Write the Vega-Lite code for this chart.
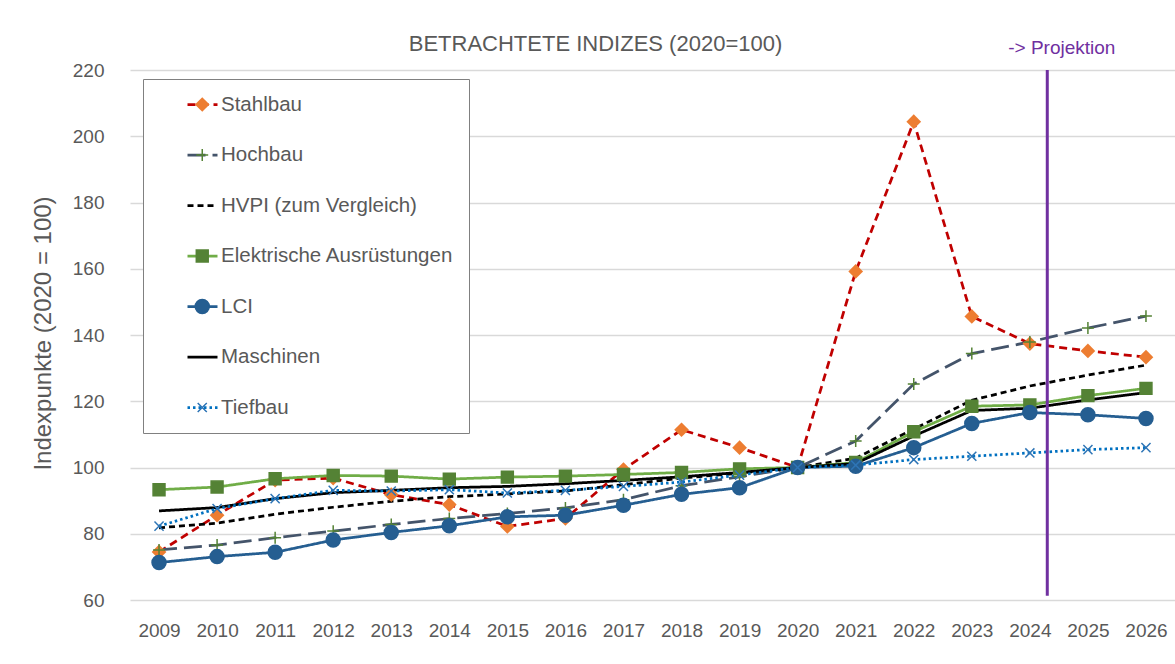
{
  "$schema": "https://vega.github.io/schema/vega-lite/v6.json",
  "autosize": {"type": "none"},
  "width": 1045,
  "height": 530,
  "padding": {"left": 130, "top": 70, "right": 0, "bottom": 64},
  "background": "white",
  "config": {"view": {"stroke": null}, "font": "Liberation Sans"},
  "title": {"text": "BETRACHTETE INDIZES (2020=100)", "fontSize": 22, "fontWeight": "normal", "color": "#595959", "font": "Liberation Sans", "anchor": "middle", "dx": -57, "dy": 22, "offset": 5},
  "datasets": {
    "idx": [
      {"year": 2009, "series": "Stahlbau", "order": 1, "value": 74.5},
      {"year": 2010, "series": "Stahlbau", "order": 1, "value": 85.6},
      {"year": 2011, "series": "Stahlbau", "order": 1, "value": 96.2},
      {"year": 2012, "series": "Stahlbau", "order": 1, "value": 96.8},
      {"year": 2013, "series": "Stahlbau", "order": 1, "value": 91.8},
      {"year": 2014, "series": "Stahlbau", "order": 1, "value": 88.8},
      {"year": 2015, "series": "Stahlbau", "order": 1, "value": 82.2},
      {"year": 2016, "series": "Stahlbau", "order": 1, "value": 84.6},
      {"year": 2017, "series": "Stahlbau", "order": 1, "value": 99.4},
      {"year": 2018, "series": "Stahlbau", "order": 1, "value": 111.4},
      {"year": 2019, "series": "Stahlbau", "order": 1, "value": 106.0},
      {"year": 2020, "series": "Stahlbau", "order": 1, "value": 100.0},
      {"year": 2021, "series": "Stahlbau", "order": 1, "value": 159.2},
      {"year": 2022, "series": "Stahlbau", "order": 1, "value": 204.4},
      {"year": 2023, "series": "Stahlbau", "order": 1, "value": 145.6},
      {"year": 2024, "series": "Stahlbau", "order": 1, "value": 137.4},
      {"year": 2025, "series": "Stahlbau", "order": 1, "value": 135.2},
      {"year": 2026, "series": "Stahlbau", "order": 1, "value": 133.3},
      {"year": 2009, "series": "Hochbau", "order": 2, "value": 75.1},
      {"year": 2010, "series": "Hochbau", "order": 2, "value": 76.6},
      {"year": 2011, "series": "Hochbau", "order": 2, "value": 78.8},
      {"year": 2012, "series": "Hochbau", "order": 2, "value": 80.8},
      {"year": 2013, "series": "Hochbau", "order": 2, "value": 82.8},
      {"year": 2014, "series": "Hochbau", "order": 2, "value": 84.6},
      {"year": 2015, "series": "Hochbau", "order": 2, "value": 86.1},
      {"year": 2016, "series": "Hochbau", "order": 2, "value": 87.8},
      {"year": 2017, "series": "Hochbau", "order": 2, "value": 90.3},
      {"year": 2018, "series": "Hochbau", "order": 2, "value": 94.5},
      {"year": 2019, "series": "Hochbau", "order": 2, "value": 97.2},
      {"year": 2020, "series": "Hochbau", "order": 2, "value": 100.0},
      {"year": 2021, "series": "Hochbau", "order": 2, "value": 108.0},
      {"year": 2022, "series": "Hochbau", "order": 2, "value": 125.2},
      {"year": 2023, "series": "Hochbau", "order": 2, "value": 134.4},
      {"year": 2024, "series": "Hochbau", "order": 2, "value": 137.9},
      {"year": 2025, "series": "Hochbau", "order": 2, "value": 142.1},
      {"year": 2026, "series": "Hochbau", "order": 2, "value": 145.7},
      {"year": 2009, "series": "HVPI (zum Vergleich)", "order": 3, "value": 81.8},
      {"year": 2010, "series": "HVPI (zum Vergleich)", "order": 3, "value": 83.2},
      {"year": 2011, "series": "HVPI (zum Vergleich)", "order": 3, "value": 85.9},
      {"year": 2012, "series": "HVPI (zum Vergleich)", "order": 3, "value": 88.0},
      {"year": 2013, "series": "HVPI (zum Vergleich)", "order": 3, "value": 89.8},
      {"year": 2014, "series": "HVPI (zum Vergleich)", "order": 3, "value": 91.2},
      {"year": 2015, "series": "HVPI (zum Vergleich)", "order": 3, "value": 92.0},
      {"year": 2016, "series": "HVPI (zum Vergleich)", "order": 3, "value": 92.9},
      {"year": 2017, "series": "HVPI (zum Vergleich)", "order": 3, "value": 94.8},
      {"year": 2018, "series": "HVPI (zum Vergleich)", "order": 3, "value": 96.8},
      {"year": 2019, "series": "HVPI (zum Vergleich)", "order": 3, "value": 98.3},
      {"year": 2020, "series": "HVPI (zum Vergleich)", "order": 3, "value": 100.0},
      {"year": 2021, "series": "HVPI (zum Vergleich)", "order": 3, "value": 102.8},
      {"year": 2022, "series": "HVPI (zum Vergleich)", "order": 3, "value": 111.6},
      {"year": 2023, "series": "HVPI (zum Vergleich)", "order": 3, "value": 120.3},
      {"year": 2024, "series": "HVPI (zum Vergleich)", "order": 3, "value": 124.6},
      {"year": 2025, "series": "HVPI (zum Vergleich)", "order": 3, "value": 127.9},
      {"year": 2026, "series": "HVPI (zum Vergleich)", "order": 3, "value": 130.9},
      {"year": 2009, "series": "Elektrische Ausrüstungen", "order": 4, "value": 93.3},
      {"year": 2010, "series": "Elektrische Ausrüstungen", "order": 4, "value": 94.1},
      {"year": 2011, "series": "Elektrische Ausrüstungen", "order": 4, "value": 96.6},
      {"year": 2012, "series": "Elektrische Ausrüstungen", "order": 4, "value": 97.6},
      {"year": 2013, "series": "Elektrische Ausrüstungen", "order": 4, "value": 97.4},
      {"year": 2014, "series": "Elektrische Ausrüstungen", "order": 4, "value": 96.5},
      {"year": 2015, "series": "Elektrische Ausrüstungen", "order": 4, "value": 97.1},
      {"year": 2016, "series": "Elektrische Ausrüstungen", "order": 4, "value": 97.4},
      {"year": 2017, "series": "Elektrische Ausrüstungen", "order": 4, "value": 97.9},
      {"year": 2018, "series": "Elektrische Ausrüstungen", "order": 4, "value": 98.5},
      {"year": 2019, "series": "Elektrische Ausrüstungen", "order": 4, "value": 99.6},
      {"year": 2020, "series": "Elektrische Ausrüstungen", "order": 4, "value": 100.0},
      {"year": 2021, "series": "Elektrische Ausrüstungen", "order": 4, "value": 101.5},
      {"year": 2022, "series": "Elektrische Ausrüstungen", "order": 4, "value": 110.8},
      {"year": 2023, "series": "Elektrische Ausrüstungen", "order": 4, "value": 118.5},
      {"year": 2024, "series": "Elektrische Ausrüstungen", "order": 4, "value": 118.9},
      {"year": 2025, "series": "Elektrische Ausrüstungen", "order": 4, "value": 121.7},
      {"year": 2026, "series": "Elektrische Ausrüstungen", "order": 4, "value": 123.9},
      {"year": 2009, "series": "LCI", "order": 5, "value": 71.3},
      {"year": 2010, "series": "LCI", "order": 5, "value": 73.1},
      {"year": 2011, "series": "LCI", "order": 5, "value": 74.4},
      {"year": 2012, "series": "LCI", "order": 5, "value": 78.1},
      {"year": 2013, "series": "LCI", "order": 5, "value": 80.4},
      {"year": 2014, "series": "LCI", "order": 5, "value": 82.4},
      {"year": 2015, "series": "LCI", "order": 5, "value": 85.1},
      {"year": 2016, "series": "LCI", "order": 5, "value": 85.6},
      {"year": 2017, "series": "LCI", "order": 5, "value": 88.6},
      {"year": 2018, "series": "LCI", "order": 5, "value": 91.9},
      {"year": 2019, "series": "LCI", "order": 5, "value": 93.9},
      {"year": 2020, "series": "LCI", "order": 5, "value": 100.0},
      {"year": 2021, "series": "LCI", "order": 5, "value": 100.4},
      {"year": 2022, "series": "LCI", "order": 5, "value": 106.0},
      {"year": 2023, "series": "LCI", "order": 5, "value": 113.3},
      {"year": 2024, "series": "LCI", "order": 5, "value": 116.6},
      {"year": 2025, "series": "LCI", "order": 5, "value": 115.9},
      {"year": 2026, "series": "LCI", "order": 5, "value": 114.8},
      {"year": 2009, "series": "Maschinen", "order": 6, "value": 86.9},
      {"year": 2010, "series": "Maschinen", "order": 6, "value": 87.9},
      {"year": 2011, "series": "Maschinen", "order": 6, "value": 90.6},
      {"year": 2012, "series": "Maschinen", "order": 6, "value": 92.4},
      {"year": 2013, "series": "Maschinen", "order": 6, "value": 93.1},
      {"year": 2014, "series": "Maschinen", "order": 6, "value": 93.9},
      {"year": 2015, "series": "Maschinen", "order": 6, "value": 94.3},
      {"year": 2016, "series": "Maschinen", "order": 6, "value": 95.1},
      {"year": 2017, "series": "Maschinen", "order": 6, "value": 96.1},
      {"year": 2018, "series": "Maschinen", "order": 6, "value": 97.2},
      {"year": 2019, "series": "Maschinen", "order": 6, "value": 98.5},
      {"year": 2020, "series": "Maschinen", "order": 6, "value": 100.0},
      {"year": 2021, "series": "Maschinen", "order": 6, "value": 101.2},
      {"year": 2022, "series": "Maschinen", "order": 6, "value": 109.5},
      {"year": 2023, "series": "Maschinen", "order": 6, "value": 117.2},
      {"year": 2024, "series": "Maschinen", "order": 6, "value": 117.9},
      {"year": 2025, "series": "Maschinen", "order": 6, "value": 120.4},
      {"year": 2026, "series": "Maschinen", "order": 6, "value": 122.6},
      {"year": 2009, "series": "Tiefbau", "order": 7, "value": 82.3},
      {"year": 2010, "series": "Tiefbau", "order": 7, "value": 87.6},
      {"year": 2011, "series": "Tiefbau", "order": 7, "value": 90.6},
      {"year": 2012, "series": "Tiefbau", "order": 7, "value": 93.1},
      {"year": 2013, "series": "Tiefbau", "order": 7, "value": 92.9},
      {"year": 2014, "series": "Tiefbau", "order": 7, "value": 93.3},
      {"year": 2015, "series": "Tiefbau", "order": 7, "value": 92.3},
      {"year": 2016, "series": "Tiefbau", "order": 7, "value": 93.1},
      {"year": 2017, "series": "Tiefbau", "order": 7, "value": 94.3},
      {"year": 2018, "series": "Tiefbau", "order": 7, "value": 95.6},
      {"year": 2019, "series": "Tiefbau", "order": 7, "value": 97.7},
      {"year": 2020, "series": "Tiefbau", "order": 7, "value": 100.0},
      {"year": 2021, "series": "Tiefbau", "order": 7, "value": 100.7},
      {"year": 2022, "series": "Tiefbau", "order": 7, "value": 102.4},
      {"year": 2023, "series": "Tiefbau", "order": 7, "value": 103.4},
      {"year": 2024, "series": "Tiefbau", "order": 7, "value": 104.4},
      {"year": 2025, "series": "Tiefbau", "order": 7, "value": 105.4},
      {"year": 2026, "series": "Tiefbau", "order": 7, "value": 106.0}
    ],
    "notes": [
      {"note": "-> Projektion", "year": 2024.3, "yLow": 61.3, "yHigh": 220, "labelYear": 2024.55, "labelValue": 224.8}
    ]
  },
  "layer": [
    {
      "data": {"name": "idx"},
      "mark": {"type": "line", "strokeWidth": 2.75},
      "encoding": {
        "x": {
          "field": "year", "type": "quantitative",
          "scale": {"domain": [2008.5, 2026.5], "nice": false, "zero": false},
          "axis": {"values": [2009, 2010, 2011, 2012, 2013, 2014, 2015, 2016, 2017, 2018, 2019, 2020, 2021, 2022, 2023, 2024, 2025, 2026], "format": "d", "title": null, "labelFontSize": 19, "labelFont": "Liberation Sans", "labelColor": "#595959", "labelPadding": 21, "ticks": false, "tickSize": 0, "domain": false, "grid": false, "labelFlush": false}
        },
        "y": {
          "field": "value", "type": "quantitative",
          "scale": {"domain": [60, 220], "nice": false, "zero": false},
          "axis": {"values": [60, 80, 100, 120, 140, 160, 180, 200, 220], "title": "Indexpunkte (2020 = 100)", "titleFontSize": 24, "titleFont": "Liberation Sans", "titleFontWeight": "normal", "titleColor": "#595959", "titleX": -87, "titleY": 263, "titleAngle": -90, "titleAlign": "center", "titleBaseline": "middle", "labelFontSize": 19, "labelFont": "Liberation Sans", "labelColor": "#595959", "labelPadding": 26, "ticks": false, "tickSize": 0, "domain": false, "grid": true, "gridColor": "#d9d9d9", "gridWidth": 1.3}
        },
        "color": {
          "field": "series", "type": "nominal",
          "scale": {"domain": ["Stahlbau", "Hochbau", "HVPI (zum Vergleich)", "Elektrische Ausrüstungen", "LCI", "Maschinen", "Tiefbau"], "range": ["#C00000", "#44546A", "#000000", "#70AD47", "#255E91", "#000000", "#0070C0"]},
          "legend": {"orient": "none", "legendX": 13, "legendY": 9, "title": null, "padding": 15, "rowPadding": 29.5, "clipHeight": 21, "fillColor": "white", "strokeColor": "#808080", "symbolType": "stroke", "symbolSize": 900, "symbolStrokeWidth": 2.75, "symbolOffset": 28, "labelOffset": 2, "labelFontSize": 20.5, "labelFont": "Liberation Sans", "labelColor": "#595959", "labelLimit": 400}
        },
        "strokeDash": {
          "field": "series", "type": "nominal",
          "scale": {"domain": ["Stahlbau", "Hochbau", "HVPI (zum Vergleich)", "Elektrische Ausrüstungen", "LCI", "Maschinen", "Tiefbau"], "range": [[8, 5], [18, 7], [6, 4], [1, 0], [1, 0], [1, 0], [2.5, 3]]},
          "legend": {"orient": "none", "legendX": 13, "legendY": 9, "title": null, "padding": 15, "rowPadding": 29.5, "clipHeight": 21, "fillColor": "white", "strokeColor": "#808080", "symbolType": "stroke", "symbolSize": 900, "symbolStrokeWidth": 2.75, "symbolOffset": 28, "labelOffset": 2, "labelFontSize": 20.5, "labelFont": "Liberation Sans", "labelColor": "#595959", "labelLimit": 400}
        }
      }
    },
    {
      "data": {"name": "idx"},
      "mark": {"type": "point", "filled": true, "size": 196, "strokeWidth": 1.5, "opacity": 1},
      "encoding": {
        "x": {"field": "year", "type": "quantitative"},
        "y": {"field": "value", "type": "quantitative"},
        "fill": {
          "field": "series", "type": "nominal",
          "sort": {"field": "order", "op": "min"},
          "scale": {"range": ["#ED7D31", "transparent", "transparent", "#548235", "#255E91", "transparent", "transparent"]},
          "legend": {"orient": "none", "legendX": 13, "legendY": 9, "title": null, "padding": 15, "rowPadding": 29.5, "clipHeight": 21, "symbolSize": 196, "symbolStrokeWidth": 1.5, "symbolOffset": 34, "labelOffset": 2, "labelFontSize": 20.5, "labelFont": "Liberation Sans", "labelOpacity": 0, "labelExpr": "''", "labelLimit": 400}
        },
        "stroke": {
          "field": "series", "type": "nominal",
          "sort": {"field": "order", "op": "min"},
          "scale": {"range": ["transparent", "#548235", "transparent", "#548235", "#255E91", "transparent", "#2E75B6"]},
          "legend": {"orient": "none", "legendX": 13, "legendY": 9, "title": null, "padding": 15, "rowPadding": 29.5, "clipHeight": 21, "symbolSize": 196, "symbolStrokeWidth": 1.5, "symbolOffset": 34, "labelOffset": 2, "labelFontSize": 20.5, "labelFont": "Liberation Sans", "labelOpacity": 0, "labelExpr": "''", "labelLimit": 400}
        },
        "shape": {
          "field": "series", "type": "nominal",
          "sort": {"field": "order", "op": "min"},
          "scale": {"range": ["M0,-1.05L1.05,0L0,1.05L-1.05,0Z", "M-0.85,0H0.85M0,-0.85V0.85", "circle", "M-0.85,-0.85H0.85V0.85H-0.85Z", "circle", "circle", "M-0.65,-0.65L0.65,0.65M-0.65,0.65L0.65,-0.65"]},
          "legend": {"orient": "none", "legendX": 13, "legendY": 9, "title": null, "padding": 15, "rowPadding": 29.5, "clipHeight": 21, "symbolSize": 196, "symbolStrokeWidth": 1.5, "symbolOffset": 34, "labelOffset": 2, "labelFontSize": 20.5, "labelFont": "Liberation Sans", "labelOpacity": 0, "labelExpr": "''", "labelLimit": 400}
        }
      }
    },
    {
      "data": {"name": "notes"},
      "mark": {"type": "rule", "color": "#7030A0", "strokeWidth": 3},
      "encoding": {
        "x": {"field": "year", "type": "quantitative"},
        "y": {"field": "yLow", "type": "quantitative"},
        "y2": {"field": "yHigh"}
      }
    },
    {
      "data": {"name": "notes"},
      "mark": {"type": "text", "color": "#7030A0", "fontSize": 19, "font": "Liberation Sans", "align": "center", "baseline": "alphabetic"},
      "encoding": {
        "x": {"field": "labelYear", "type": "quantitative"},
        "y": {"field": "labelValue", "type": "quantitative"},
        "text": {"field": "note"}
      }
    }
  ]
}
